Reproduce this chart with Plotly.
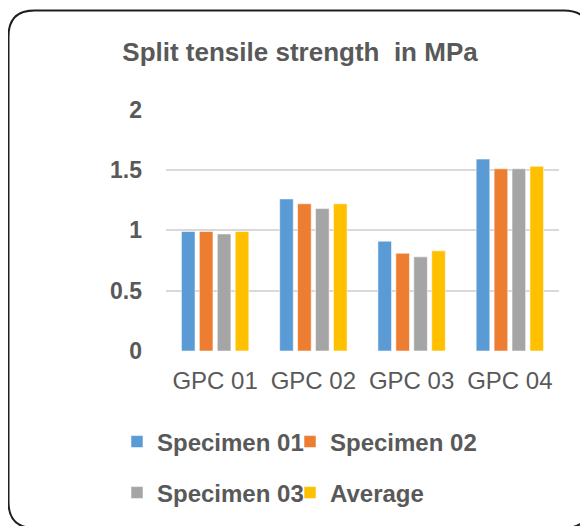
import plotly.graph_objects as go

categories = ["GPC 01", "GPC 02", "GPC 03", "GPC 04"]
specimen_01 = [0.99, 1.26, 0.91, 1.59]
specimen_02 = [0.99, 1.22, 0.81, 1.51]
specimen_03 = [0.97, 1.18, 0.78, 1.51]
average = [0.99, 1.22, 0.83, 1.53]
series_names = ["Specimen 01", "Specimen 02", "Specimen 03", "Average"]
series_colors = ["#5B9BD5", "#ED7D31", "#A5A5A5", "#FFC000"]
ytick_vals = [0, 0.5, 1, 1.5, 2]
ytick_text = ["0", "0.5", "1", "1.5", "2"]

# the page body has an 8px margin, so the figure starts at (8, 8) in the window
OFF = 8
W, H = 588 - OFF, 526 - OFF
L, R, T, B = 158, 29, 101, 175
PW, PH = W - L - R, H - T - B


def xp(px):
    return (px - OFF - L) / PW


def yp(py):
    return (H - B - (py - OFF)) / PH


TEXT = "#595959"
FONT = "Liberation Sans, Arial, sans-serif"

fig = go.Figure()
series = [specimen_01, specimen_02, specimen_03, average]
legend_ids = ["legend", "legend2", "legend3", "legend4"]
for name, vals, col, lg in zip(series_names, series, series_colors, legend_ids):
    fig.add_trace(go.Bar(
        x=categories, y=vals, name=name, showlegend=True,
        marker=dict(color=col, line=dict(color="rgba(255,255,255,0.55)", width=1)),
        legend=lg,
    ))

# rounded border around the chart (window pixel coordinates)
x0, y0, x1, y1, r = 8.5, 10.5, 590, 528, 26
pts = [
    ("M", (x0 + r, y0)), ("L", (x1 - r, y0)), ("Q", (x1, y0), (x1, y0 + r)),
    ("L", (x1, y1 - r)), ("Q", (x1, y1), (x1 - r, y1)), ("L", (x0 + r, y1)),
    ("Q", (x0, y1), (x0, y1 - r)), ("L", (x0, y0 + r)), ("Q", (x0, y0), (x0 + r, y0)),
]
path = ""
for cmd, *ps in pts:
    path += cmd + " " + " ".join(f"{xp(a):.5f},{yp(b):.5f}" for a, b in ps) + " "
path += "Z"

legend_font = dict(family=FONT, size=24, color=TEXT, weight="bold")
legend_pos = {"legend": (117, 442), "legend2": (290, 442),
              "legend3": (117, 493), "legend4": (290, 493)}
legend_layout = {
    k: dict(orientation="h", x=xp(px), xanchor="left", y=yp(py), yanchor="middle",
            font=legend_font, bgcolor="rgba(0,0,0,0)", itemclick=False,
            itemdoubleclick=False, visible=True)
    for k, (px, py) in legend_pos.items()
}

fig.update_layout(
    width=W, height=H,
    showlegend=True,
    margin=dict(l=L, r=R, t=T, b=B, autoexpand=False),
    paper_bgcolor="white", plot_bgcolor="white",
    barmode="group", bargap=0.27, bargroupgap=0.24,
    title=dict(
        text="<b>Split tensile strength  in MPa</b>",
        x=(300 - OFF) / W, xanchor="center", xref="container",
        y=1 - (52 - OFF) / H, yanchor="middle", yref="container",
        font=dict(family=FONT, size=26, color=TEXT),
    ),
    xaxis=dict(
        showgrid=False, showline=False, zeroline=False,
        tickfont=dict(family=FONT, size=24, color=TEXT),
        ticklabelstandoff=13,
    ),
    yaxis=dict(
        range=[0, 2.005], tickvals=ytick_vals, ticktext=ytick_text,
        showgrid=True, gridcolor="#D9D9D9", gridwidth=1.5,
        zeroline=False, showline=False,
        tickfont=dict(family=FONT, size=23, color=TEXT, weight="bold"),
        ticklabelstandoff=23,
    ),
    shapes=[dict(type="path", xref="paper", yref="paper", path=path,
                 line=dict(color="#1E1E1E", width=2), fillcolor="rgba(0,0,0,0)")],
    **legend_layout,
)

fig.write_html("out.html")
